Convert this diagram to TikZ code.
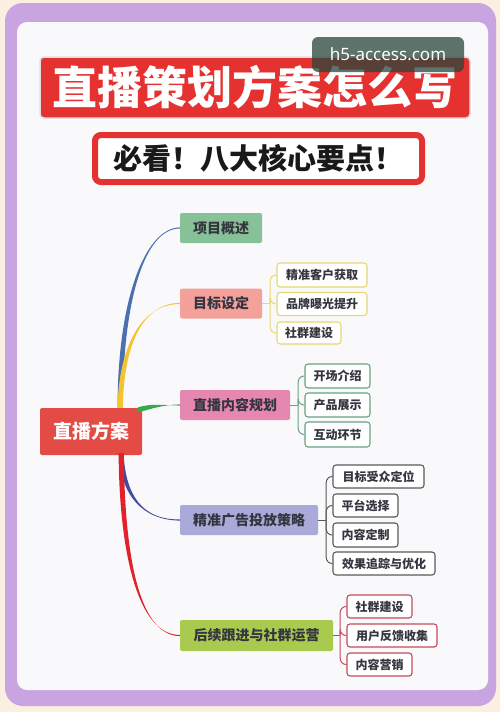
\documentclass[tikz,border=0pt]{standalone}
\usepackage{fontspec}
\setmainfont{Noto Sans CJK SC}
\newfontfamily\wmfont{Noto Sans}
\usetikzlibrary{calc}
\definecolor{cream}{HTML}{FBEFE1}
\definecolor{framepurple}{HTML}{C8A4E0}
\definecolor{paper}{HTML}{F9F9FB}
\definecolor{titlered}{HTML}{E5312F}
\definecolor{rootred}{HTML}{E54B45}
\definecolor{cA}{HTML}{86C197}
\definecolor{cB}{HTML}{F4A09B}
\definecolor{cC}{HTML}{E687B2}
\definecolor{cD}{HTML}{A9AADA}
\definecolor{cE}{HTML}{A9C94F}
\definecolor{bBlue}{HTML}{4C6FB0}
\definecolor{bYellow}{HTML}{F2C530}
\definecolor{bGreen}{HTML}{36A94A}
\definecolor{bNavy}{HTML}{3F4C9E}
\definecolor{bRed}{HTML}{E0222C}
\definecolor{gB}{HTML}{E6D873}
\definecolor{gC}{HTML}{68A283}
\definecolor{gD}{HTML}{5A5A5A}
\definecolor{gE}{HTML}{C44A5A}
\definecolor{txt}{HTML}{353540}
\newcommand\mybranch[6]{%
  \path[fill=#1] ($(#2)+(#6)$) .. controls ($(#3)+(#6)$) and (#4) .. ($(#5)+(0,-0.6)$)
    -- ($(#5)+(0,0.6)$) .. controls (#4) and ($(#3)-(#6)$) .. ($(#2)-(#6)$) -- cycle;}
\tikzset{
  lone/.style={rounded corners=2pt, minimum height=30pt, text=txt, font=\fontsize{14}{14}\selectfont\bfseries, inner sep=0pt},
  ltwo/.style={draw=#1, fill=white, line width=1.1pt, rounded corners=3pt, minimum height=23pt, text=txt, font=\fontsize{12}{12}\selectfont\bfseries, inner sep=0pt},
  brk/.style={draw=#1, line width=1pt, rounded corners=6pt}
}
\begin{document}
\begin{tikzpicture}[x=1pt,y=-1pt]
\useasboundingbox (0,0) rectangle (500,712);
\fill[cream] (0,0) rectangle (500,712);
\fill[framepurple, rounded corners=18pt] (5,3) rectangle (496,706);
\fill[paper, rounded corners=10pt] (17,22) rectangle (488,690);

% title
\node[fill=titlered, draw=gray!25, line width=1.5pt, rounded corners=4pt, minimum width=430pt, minimum height=61pt, inner sep=0pt, text=white, font=\fontsize{45}{45}\selectfont\bfseries] (title) at (255,87.5) {直播策划方案怎么写};
\node[fill=white, draw=titlered, line width=6pt, rounded corners=6pt, minimum width=327pt, minimum height=47pt, inner sep=0pt, text=black!90, font=\fontsize{29}{29}\selectfont\bfseries] (sub) at (258.5,158.5) {必看！八大核心要点！};

% watermark
\node[fill={rgb,255:red,40;green,70;blue,60}, fill opacity=0.75, text opacity=1, text=white!92, rounded corners=6pt, minimum width=152pt, minimum height=35pt, inner sep=0pt, font=\wmfont\fontsize{17}{17}\selectfont] (wm) at (388,54.5) {h5-access.com};

% root
\node[fill=rootred, rounded corners=2pt, minimum width=102pt, minimum height=47pt, inner sep=0pt, text=white, font=\fontsize{19}{19}\selectfont\bfseries] (root) at (91,431.5) {直播方案};

% level 1
\node[lone, fill=cA, minimum width=82pt] (L1) at (221,228) {项目概述};
\node[lone, fill=cB, minimum width=82pt] (L2) at (221,303.5) {目标设定};
\node[lone, fill=cC, minimum width=110pt] (L3) at (235,405) {直播内容规划};
\node[lone, fill=cD, minimum width=138pt] (L4) at (249,520) {精准广告投放策略};
\node[lone, fill=cE, minimum width=153pt, minimum height=31pt] (L5) at (256.5,635.5) {后续跟进与社群运营};

% level 2
\node[ltwo=gB, minimum width=90pt, minimum height=24pt] (a1) at (322,275) {精准客户获取};
\node[ltwo=gB, minimum width=90pt] (a2) at (322,304) {品牌曝光提升};
\node[ltwo=gB, minimum width=64pt, minimum height=22pt] (a3) at (309,333) {社群建设};

\node[ltwo=gC, minimum width=65pt, minimum height=24pt] (b1) at (337.5,376) {开场介绍};
\node[ltwo=gC, minimum width=65pt, minimum height=24pt] (b2) at (337.5,405) {产品展示};
\node[ltwo=gC, minimum width=65pt, minimum height=25pt] (b3) at (337.5,434.5) {互动环节};

\node[ltwo=gD, minimum width=91pt] (c1) at (378.5,476.5) {目标受众定位};
\node[ltwo=gD, minimum width=65pt] (c2) at (365.5,505.5) {平台选择};
\node[ltwo=gD, minimum width=65pt, minimum height=24pt] (c3) at (365.5,535) {内容定制};
\node[ltwo=gD, minimum width=102pt] (c4) at (384,563.5) {效果追踪与优化};

\node[ltwo=gE, minimum width=65pt] (d1) at (379.5,606.5) {社群建设};
\node[ltwo=gE, minimum width=90pt] (d2) at (392,635.5) {用户反馈收集};
\node[ltwo=gE, minimum width=65pt] (d3) at (379.5,664.5) {内容营销};

% branch origins
\coordinate (ot) at ($(root.north east)+(-22,0)$);
\coordinate (og) at ($(root.north east)+(-4,2)$);
\coordinate (ob) at ($(root.south east)+(-21,-2)$);

\mybranch{bBlue}{ot}{120,300}{145,228}{L1.west}{-2.6,0}
\mybranch{bYellow}{ot}{121,350}{140,303.5}{L2.west}{2.6,0}
\mybranch{bGreen}{og}{152,406}{162,405}{L3.west}{0,2.6}
\mybranch{bNavy}{ob}{123,495}{142,520}{L4.west}{2.4,0}
\mybranch{bRed}{ob}{122,560}{140,635.5}{L5.west}{-2.6,0}

% brackets
\coordinate (j2) at ($(L2.east)+(8,0)$);
\draw[brk=gB] (L2.east) -- (j2);
\foreach \n in {a1,a2,a3} \draw[brk=gB] (j2) |- (\n.west);
\coordinate (j3) at ($(L3.east)+(8,0)$);
\draw[brk=gC] (L3.east) -- (j3);
\foreach \n in {b1,b2,b3} \draw[brk=gC] (j3) |- (\n.west);
\coordinate (j4) at ($(L4.east)+(8,0)$);
\draw[brk=gD] (L4.east) -- (j4);
\foreach \n in {c1,c2,c3,c4} \draw[brk=gD] (j4) |- (\n.west);
\coordinate (j5) at ($(L5.east)+(7,0)$);
\draw[brk=gE] (L5.east) -- (j5);
\foreach \n in {d1,d2,d3} \draw[brk=gE] (j5) |- (\n.west);
\end{tikzpicture}
\end{document}
